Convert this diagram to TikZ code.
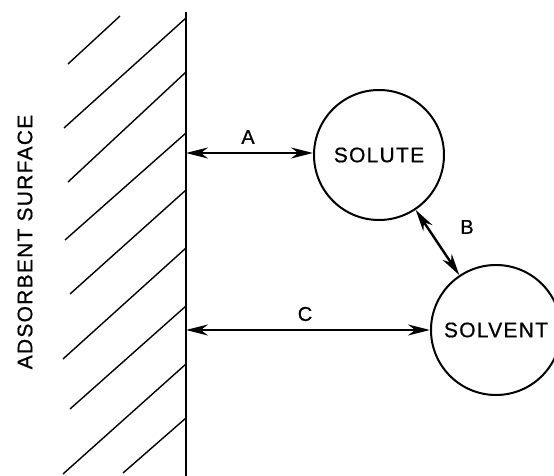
\documentclass[tikz,border=0pt]{standalone}
\usepackage{fontspec}
\newfontfamily\lettering{Liberation Sans}[LetterSpace=6, UprightFeatures={FakeBold=0.7}]
\usetikzlibrary{arrows.meta}
\tikzset{
  body/.style={draw, circle, line width=1pt, minimum size=65pt, inner sep=0pt, font=\lettering\fontsize{10.5}{12}\selectfont},
  bond/.style={{Stealth[length=11pt,width=5.5pt]}-{Stealth[length=11pt,width=5.5pt]}, line width=1.2pt},
  openbond/.style={{Stealth[length=11pt,width=5.5pt,open,fill=white]}-{Stealth[length=11pt,width=5.5pt,open,fill=white]}, line width=1.2pt},
  hatch/.style={line width=0.7pt},
  lab/.style={font=\lettering\fontsize{10}{12}\selectfont}
}

\begin{document}
\begin{tikzpicture}[x=0.5pt, y=-0.5pt]
  \clip (0,0) rectangle (554,476);

  % surface and its hatching
  \coordinate (wtop) at (186,12);
  \coordinate (wbot) at (186,476);
  \draw[line width=1.2pt] (wtop) -- (wbot);
  \draw[hatch] (120,16) -- (68,64);
  \foreach \ya/\xb/\yb in {18/64/128, 72/68/182, 133/65/240, 190/70/294, 248/63/359, 306/70/409, 364/63/474, 418/123/473}
    \draw[hatch] (186,\ya) -- (\xb,\yb);
  \node[rotate=90, font=\lettering\fontsize{10.5}{12}\selectfont] (surf) at (25,242) {ADSORBENT SURFACE};

  \node[body] (solute) at (379,155) {SOLUTE};
  \node[body] (solvent) at (496,330) {SOLVENT};

  \coordinate (wA) at (186,153);
  \coordinate (wC) at (186,330);
  \draw[bond] (wA) -- (wA -| solute.west);
  \draw[openbond] (wC) -- (solvent.west);
  \draw[openbond] (solute) -- (solvent);

  \node[lab] (labA) at (248,137) {A};
  \node[lab] (labB) at (467,227) {B};
  \node[lab] (labC) at (305,314) {C};
\end{tikzpicture}
\end{document}
